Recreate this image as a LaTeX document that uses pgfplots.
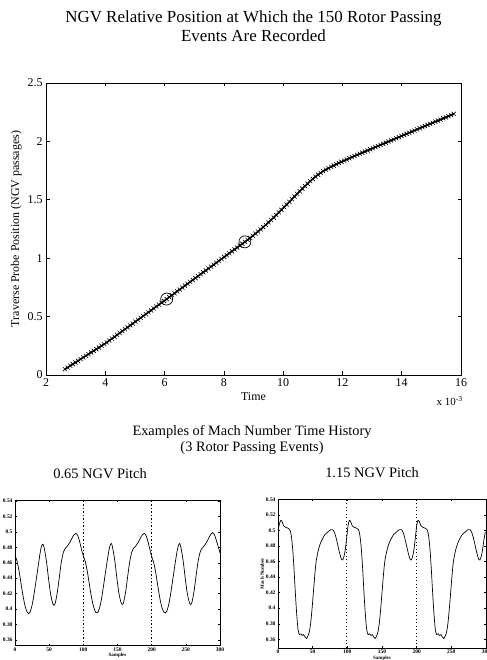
\documentclass[border=0pt]{standalone}
\usepackage{pgfplots}
\pgfplotsset{compat=1.18}
\usepackage{pgfplotstable}
\usepackage{fontspec}
\setmainfont{Liberation Serif}

\pgfplotstableread{
x y
2.640 0.050
2.728 0.064
2.816 0.079
2.904 0.093
2.992 0.107
3.080 0.121
3.168 0.136
3.256 0.150
3.344 0.164
3.432 0.178
3.520 0.193
3.608 0.207
3.696 0.221
3.784 0.235
3.872 0.250
3.960 0.264
4.048 0.279
4.136 0.295
4.224 0.311
4.312 0.327
4.400 0.343
4.488 0.360
4.576 0.376
4.664 0.392
4.752 0.408
4.840 0.424
4.928 0.440
5.016 0.457
5.104 0.473
5.192 0.489
5.280 0.505
5.368 0.521
5.456 0.537
5.544 0.553
5.632 0.570
5.720 0.586
5.808 0.602
5.896 0.618
5.984 0.634
6.072 0.650
6.160 0.666
6.248 0.683
6.336 0.699
6.424 0.716
6.512 0.732
6.600 0.748
6.688 0.765
6.776 0.781
6.864 0.797
6.952 0.814
7.040 0.830
7.128 0.846
7.216 0.863
7.304 0.879
7.392 0.895
7.480 0.912
7.568 0.928
7.656 0.944
7.744 0.961
7.832 0.977
7.920 0.993
8.008 1.010
8.096 1.026
8.184 1.042
8.272 1.059
8.360 1.075
8.448 1.091
8.536 1.108
8.624 1.124
8.712 1.140
8.800 1.157
8.888 1.174
8.976 1.192
9.064 1.210
9.152 1.228
9.240 1.247
9.328 1.266
9.416 1.286
9.504 1.306
9.592 1.327
9.680 1.348
9.768 1.370
9.856 1.392
9.944 1.414
10.032 1.437
10.120 1.460
10.208 1.482
10.296 1.505
10.384 1.528
10.472 1.551
10.560 1.573
10.648 1.595
10.736 1.617
10.824 1.638
10.912 1.659
11.000 1.679
11.088 1.698
11.176 1.715
11.264 1.731
11.352 1.745
11.440 1.758
11.528 1.770
11.616 1.782
11.704 1.793
11.792 1.804
11.880 1.815
11.968 1.825
12.056 1.835
12.144 1.845
12.232 1.855
12.320 1.865
12.408 1.875
12.496 1.884
12.584 1.894
12.672 1.903
12.760 1.913
12.848 1.922
12.936 1.932
13.024 1.941
13.112 1.951
13.200 1.960
13.288 1.970
13.376 1.979
13.464 1.989
13.552 1.998
13.640 2.008
13.728 2.017
13.816 2.027
13.904 2.036
13.992 2.046
14.080 2.055
14.168 2.065
14.256 2.074
14.344 2.084
14.432 2.093
14.520 2.103
14.608 2.112
14.696 2.122
14.784 2.131
14.872 2.141
14.960 2.150
15.048 2.159
15.136 2.169
15.224 2.178
15.312 2.187
15.400 2.197
15.488 2.206
15.576 2.216
15.664 2.225
15.752 2.235
}\events

\pgfplotstableread{
s m
0 0.470
3 0.462
6 0.449
9 0.432
12 0.416
15 0.403
18 0.396
20 0.394
22 0.396
25 0.405
28 0.420
31 0.438
34 0.456
37 0.474
39 0.482
41 0.484
43 0.478
46 0.462
49 0.440
52 0.420
55 0.408
57 0.405
59 0.408
62 0.422
65 0.442
68 0.462
71 0.474
74 0.479
77 0.482
80 0.486
83 0.491
86 0.496
89 0.498
92 0.495
95 0.486
98 0.475
100 0.469
103 0.461
106 0.448
109 0.431
112 0.415
115 0.403
118 0.396
120 0.395
122 0.397
125 0.406
128 0.421
131 0.439
134 0.457
137 0.474
139 0.482
141 0.485
143 0.479
146 0.463
149 0.441
152 0.421
155 0.409
157 0.406
159 0.409
162 0.423
165 0.443
168 0.462
171 0.474
174 0.479
177 0.482
180 0.486
183 0.491
186 0.496
189 0.498
192 0.495
195 0.486
198 0.475
200 0.468
203 0.460
206 0.447
209 0.430
212 0.414
215 0.402
218 0.396
220 0.395
222 0.397
225 0.406
228 0.421
231 0.439
234 0.457
237 0.474
239 0.482
241 0.485
243 0.479
246 0.463
249 0.441
252 0.421
255 0.409
257 0.406
259 0.409
262 0.423
265 0.443
268 0.462
271 0.474
274 0.479
277 0.482
280 0.486
283 0.491
286 0.496
289 0.499
292 0.496
295 0.488
298 0.479
300 0.473
}\pitchA

\pgfplotstableread{
s m
0 0.500
2 0.508
4 0.513
6 0.511
8 0.506
11 0.504
14 0.503
17 0.501
19 0.494
21 0.478
23 0.452
25 0.420
27 0.392
29 0.372
31 0.366
33 0.367
35 0.365
37 0.366
39 0.363
41 0.361
43 0.364
45 0.369
47 0.380
49 0.398
51 0.420
53 0.442
55 0.460
58 0.474
61 0.483
64 0.489
68 0.495
72 0.498
76 0.501
79 0.501
82 0.496
85 0.486
88 0.474
91 0.464
93 0.462
95 0.466
97 0.475
99 0.490
101 0.506
103 0.513
105 0.511
107 0.506
110 0.504
113 0.503
116 0.501
118 0.494
120 0.478
122 0.452
124 0.420
126 0.392
128 0.372
130 0.366
132 0.367
134 0.365
136 0.366
138 0.363
140 0.361
142 0.364
144 0.369
146 0.380
148 0.398
150 0.420
152 0.442
154 0.460
157 0.474
160 0.483
163 0.489
167 0.495
171 0.498
175 0.501
178 0.501
181 0.496
184 0.486
187 0.474
190 0.464
192 0.462
194 0.466
196 0.475
198 0.490
200 0.506
202 0.513
204 0.511
206 0.506
209 0.504
212 0.503
215 0.501
217 0.494
219 0.478
221 0.452
223 0.420
225 0.392
227 0.372
229 0.366
231 0.367
233 0.365
235 0.366
237 0.363
239 0.361
241 0.364
243 0.369
245 0.380
247 0.398
249 0.420
251 0.442
253 0.460
256 0.474
259 0.483
262 0.489
266 0.495
270 0.498
274 0.501
277 0.501
280 0.496
283 0.486
286 0.474
289 0.464
291 0.462
293 0.466
295 0.475
297 0.488
299 0.498
}\pitchB

\pgfplotsset{
  small/.style={
    scale only axis,
    xmin=0, xmax=300,
    xtick={0,50,100,150,200,250,300},
    ytick={0.36,0.38,0.40,0.42,0.44,0.46,0.48,0.50,0.52,0.54},
    tick align=inside, tick pos=both, major tick length=2bp,
    every tick/.style={black, line width=0.4bp},
    axis line style={line width=0.5bp},
    /pgf/number format/assume math mode=true,
    ticklabel style={font=\fontsize{5.5}{6}\selectfont\bfseries},
    xticklabel style={yshift=1.5bp},
    yticklabel style={xshift=1bp},
    label style={font=\fontsize{5}{6}\selectfont\bfseries},
    xlabel={Samples},
    xlabel style={yshift=5bp},
    title style={font=\fontsize{14.5}{16}\selectfont, anchor=south},
    clip=false,
  }
}

\begin{document}
\begin{tikzpicture}[x=1bp,y=1bp]
\begin{axis}[
  at={(46bp,285bp)}, anchor=south west,
  scale only axis, width=415bp, height=292bp,
  xmin=2, xmax=16, ymin=0, ymax=2.5,
  xtick={2,4,6,8,10,12,14,16}, ytick={0,0.5,1,1.5,2,2.5},
  tick align=inside, tick pos=both, major tick length=3.5bp,
  axis line style={line width=0.8bp},
  every tick/.style={black, line width=0.6bp},
  /pgf/number format/assume math mode=true,
  ticklabel style={font=\fontsize{12}{13}\selectfont},
  xlabel={Time}, ylabel={Traverse Probe Position (NGV passages)},
  label style={font=\fontsize{12}{13}\selectfont},
  xlabel style={yshift=1bp},
  ylabel style={yshift=-1bp},
  title={NGV Relative Position at Which the 150 Rotor Passing\\Events Are Recorded},
  title style={align=center, font=\fontsize{17}{18.5}\selectfont, at={(0.5,1)}, anchor=south, yshift=32bp},
  clip=false,
]
\addplot[black, line width=1.6bp, mark=x, mark size=2.9bp, mark options={line width=0.6bp}] table[x=x, y=y] {\events};
\addplot[black, only marks, mark=o, mark size=6bp, mark options={line width=0.7bp}] coordinates {(6.07,0.65) (8.71,1.14)};
\node[anchor=north east, font=\fontsize{11}{12}\selectfont, inner sep=0pt] at (rel axis cs:1,0) [yshift=-21bp, xshift=2bp] {x 10\textsuperscript{-3}};
\end{axis}

\node[font=\fontsize{14.4}{16}\selectfont, align=center] at (252,220) {Examples of Mach Number Time History\\(3 Rotor Passing Events)};

\begin{axis}[small,
  at={(15bp,14.3bp)}, anchor=south west,
  width=205bp, height=145.7bp,
  ymin=0.3526, ymax=0.5413,
  title={0.65 NGV Pitch}, title style={at={(0.415,1)}, yshift=12bp},
]
\addplot[black, line width=0.7bp, smooth] table[x=s, y=m] {\pitchA};
\addplot[black, line width=0.6bp, dash pattern=on 1.3bp off 2.2bp] coordinates {(100,0.3526) (100,0.5413)};
\addplot[black, line width=0.6bp, dash pattern=on 1.3bp off 2.2bp] coordinates {(200,0.3526) (200,0.5413)};
\end{axis}

\begin{axis}[small,
  at={(278bp,12bp)}, anchor=south west,
  width=208bp, height=148.7bp,
  ymin=0.3488, ymax=0.54,
  ylabel={Mach Number}, ylabel style={yshift=-5bp},
  title={1.15 NGV Pitch}, title style={at={(0.452,1)}, yshift=12bp},
]
\addplot[black, line width=0.7bp, smooth] table[x=s, y=m] {\pitchB};
\addplot[black, line width=0.6bp, dash pattern=on 1.3bp off 2.2bp] coordinates {(99,0.3488) (99,0.54)};
\addplot[black, line width=0.6bp, dash pattern=on 1.3bp off 2.2bp] coordinates {(199,0.3488) (199,0.54)};
\end{axis}

\pgfresetboundingbox
\path[use as bounding box] (0,0) rectangle (487,660);
\end{tikzpicture}
\end{document}
